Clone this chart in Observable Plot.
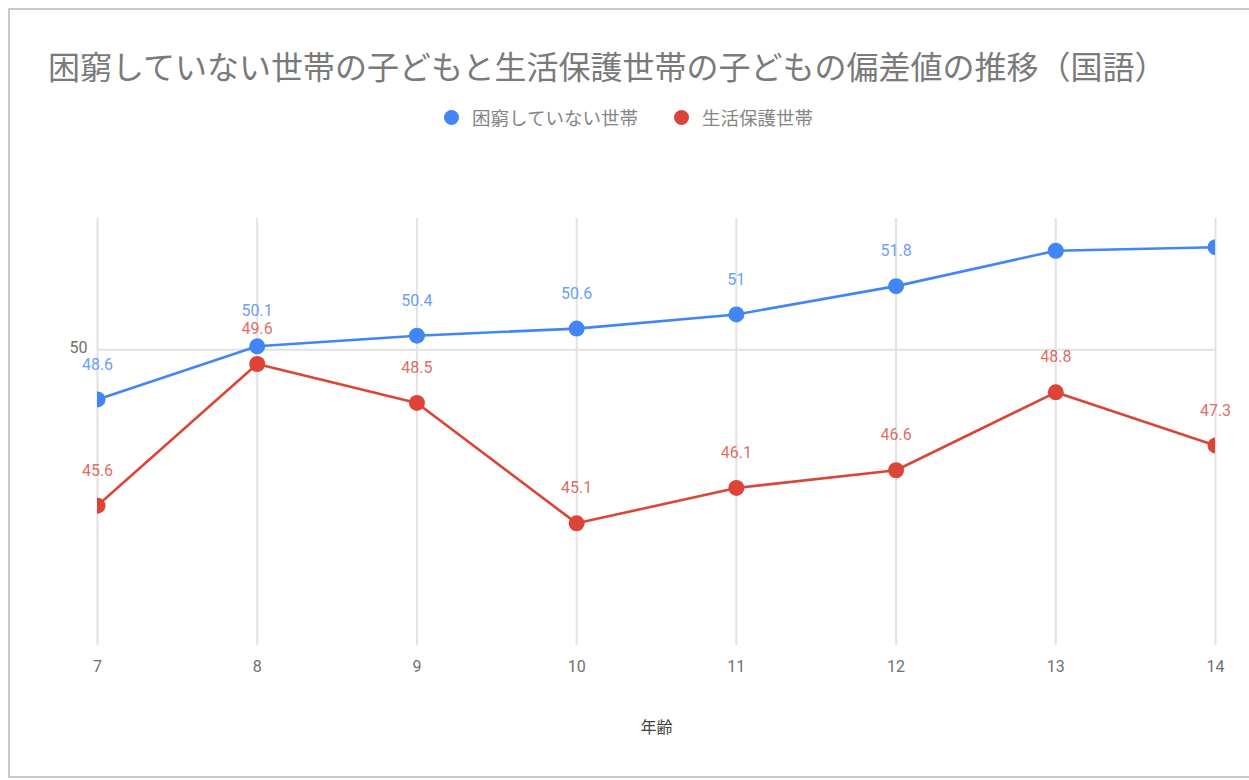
<!DOCTYPE html>
<html>
<head>
<meta charset="utf-8">
<script src="https://cdn.jsdelivr.net/npm/d3@7"></script>
<script src="https://cdn.jsdelivr.net/npm/@observablehq/plot@0.6"></script>
<style>
  html, body { margin: 0; padding: 0; background: #fff; }
  body { width: 1249px; height: 780px; position: relative; overflow: hidden; font-family: Roboto, "Noto Sans CJK JP", sans-serif; }
  #frame { position: absolute; left: 8px; top: 8px; width: 1245px; height: 766px; border-left: 2px solid #c9c9c9; border-top: 2px solid #c9c9c9; border-bottom: 2px solid #c9c9c9; }
  #title { position: absolute; left: 48px; top: 44px; font-family: "Noto Sans CJK JP", sans-serif; font-size: 32px; color: #7a7a7a; white-space: nowrap; line-height: 42px; }
  #legend { position: absolute; left: 444px; top: 104px; display: flex; align-items: center; font-family: "Noto Sans CJK JP", sans-serif; font-size: 18.5px; color: #858585; line-height: 26px; }
  .sw { width: 15px; height: 15px; border-radius: 50%; display: inline-block; margin-right: 13px; }
  .item { display: flex; align-items: center; margin-right: 36px; }
  #chart { position: absolute; left: 0; top: 150px; }
</style>
</head>
<body>
<div id="frame"></div>
<div id="title"></div>
<div id="legend"></div>
<div id="chart"></div>
<script>
const title = "困窮していない世帯の子どもと生活保護世帯の子どもの偏差値の推移（国語）";
const xLabel = "年齢";
const seriesNames = ["困窮していない世帯", "生活保護世帯"];
const seriesColors = ["#4285F4", "#DB4437"];
const ages = [7, 8, 9, 10, 11, 12, 13, 14];
const notPoor = [48.6, 50.1, 50.4, 50.6, 51.0, 51.8, 52.8, 52.9];
const notPoorLabels = ["48.6", "50.1", "50.4", "50.6", "51", "51.8", null, null];
const welfare = [45.6, 49.6, 48.5, 45.1, 46.1, 46.6, 48.8, 47.3];
const welfareLabels = ["45.6", "49.6", "48.5", "45.1", "46.1", "46.6", "48.8", "47.3"];
const yTicks = [50];

document.getElementById("title").textContent = title;
const legend = document.getElementById("legend");
seriesNames.forEach((n, i) => {
  const it = document.createElement("div");
  it.className = "item";
  const sw = document.createElement("span");
  sw.className = "sw";
  sw.style.background = seriesColors[i];
  const t = document.createElement("span");
  t.textContent = n;
  it.appendChild(sw); it.appendChild(t);
  legend.appendChild(it);
});

const data = [];
ages.forEach((a, i) => {
  data.push({age: a, value: notPoor[i], label: notPoorLabels[i], series: seriesNames[0]});
});
ages.forEach((a, i) => {
  data.push({age: a, value: welfare[i], label: welfareLabels[i], series: seriesNames[1]});
});

const chart = Plot.plot({
  width: 1249,
  height: 620,
  marginLeft: 97,
  marginRight: 34,
  marginTop: 68,
  marginBottom: 125,
  style: {fontFamily: "Roboto, 'Noto Sans CJK JP', sans-serif", background: "transparent"},
  x: {domain: [7, 14], ticks: ages, tickFormat: d => String(d)},
  y: {domain: [41.65, 53.71]},
  color: {domain: seriesNames, range: seriesColors},
  marks: [
    Plot.ruleX(ages, {stroke: "#e2e2e2", strokeWidth: 2}),
    Plot.ruleY(yTicks, {stroke: "#e2e2e2", strokeWidth: 2}),
    Plot.axisX({ticks: ages, tickSize: 0, tickPadding: 15, fontSize: 16, color: "#707070", label: null, tickFormat: d => String(d)}),
    Plot.axisY({ticks: yTicks, tickSize: 0, tickPadding: 10, fontSize: 16, color: "#707070", label: null, dy: -2}),
    Plot.line(data, {x: "age", y: "value", z: "series", stroke: "series", strokeWidth: 2.6, clip: true}),
    Plot.dot(data, {x: "age", y: "value", fill: "series", r: 8, clip: true}),
    Plot.text(data.filter(d => d.label != null), {x: "age", y: "value", text: "label", fill: "series", fillOpacity: 0.8, dy: -35, fontSize: 16, lineAnchor: "middle"}),
    Plot.text([xLabel], {text: d => d, frameAnchor: "bottom", dy: 82, lineAnchor: "middle", fontSize: 16, fill: "#444", fontFamily: "'Noto Sans CJK JP', sans-serif"})
  ]
});
document.getElementById("chart").appendChild(chart);
</script>
</body>
</html>
